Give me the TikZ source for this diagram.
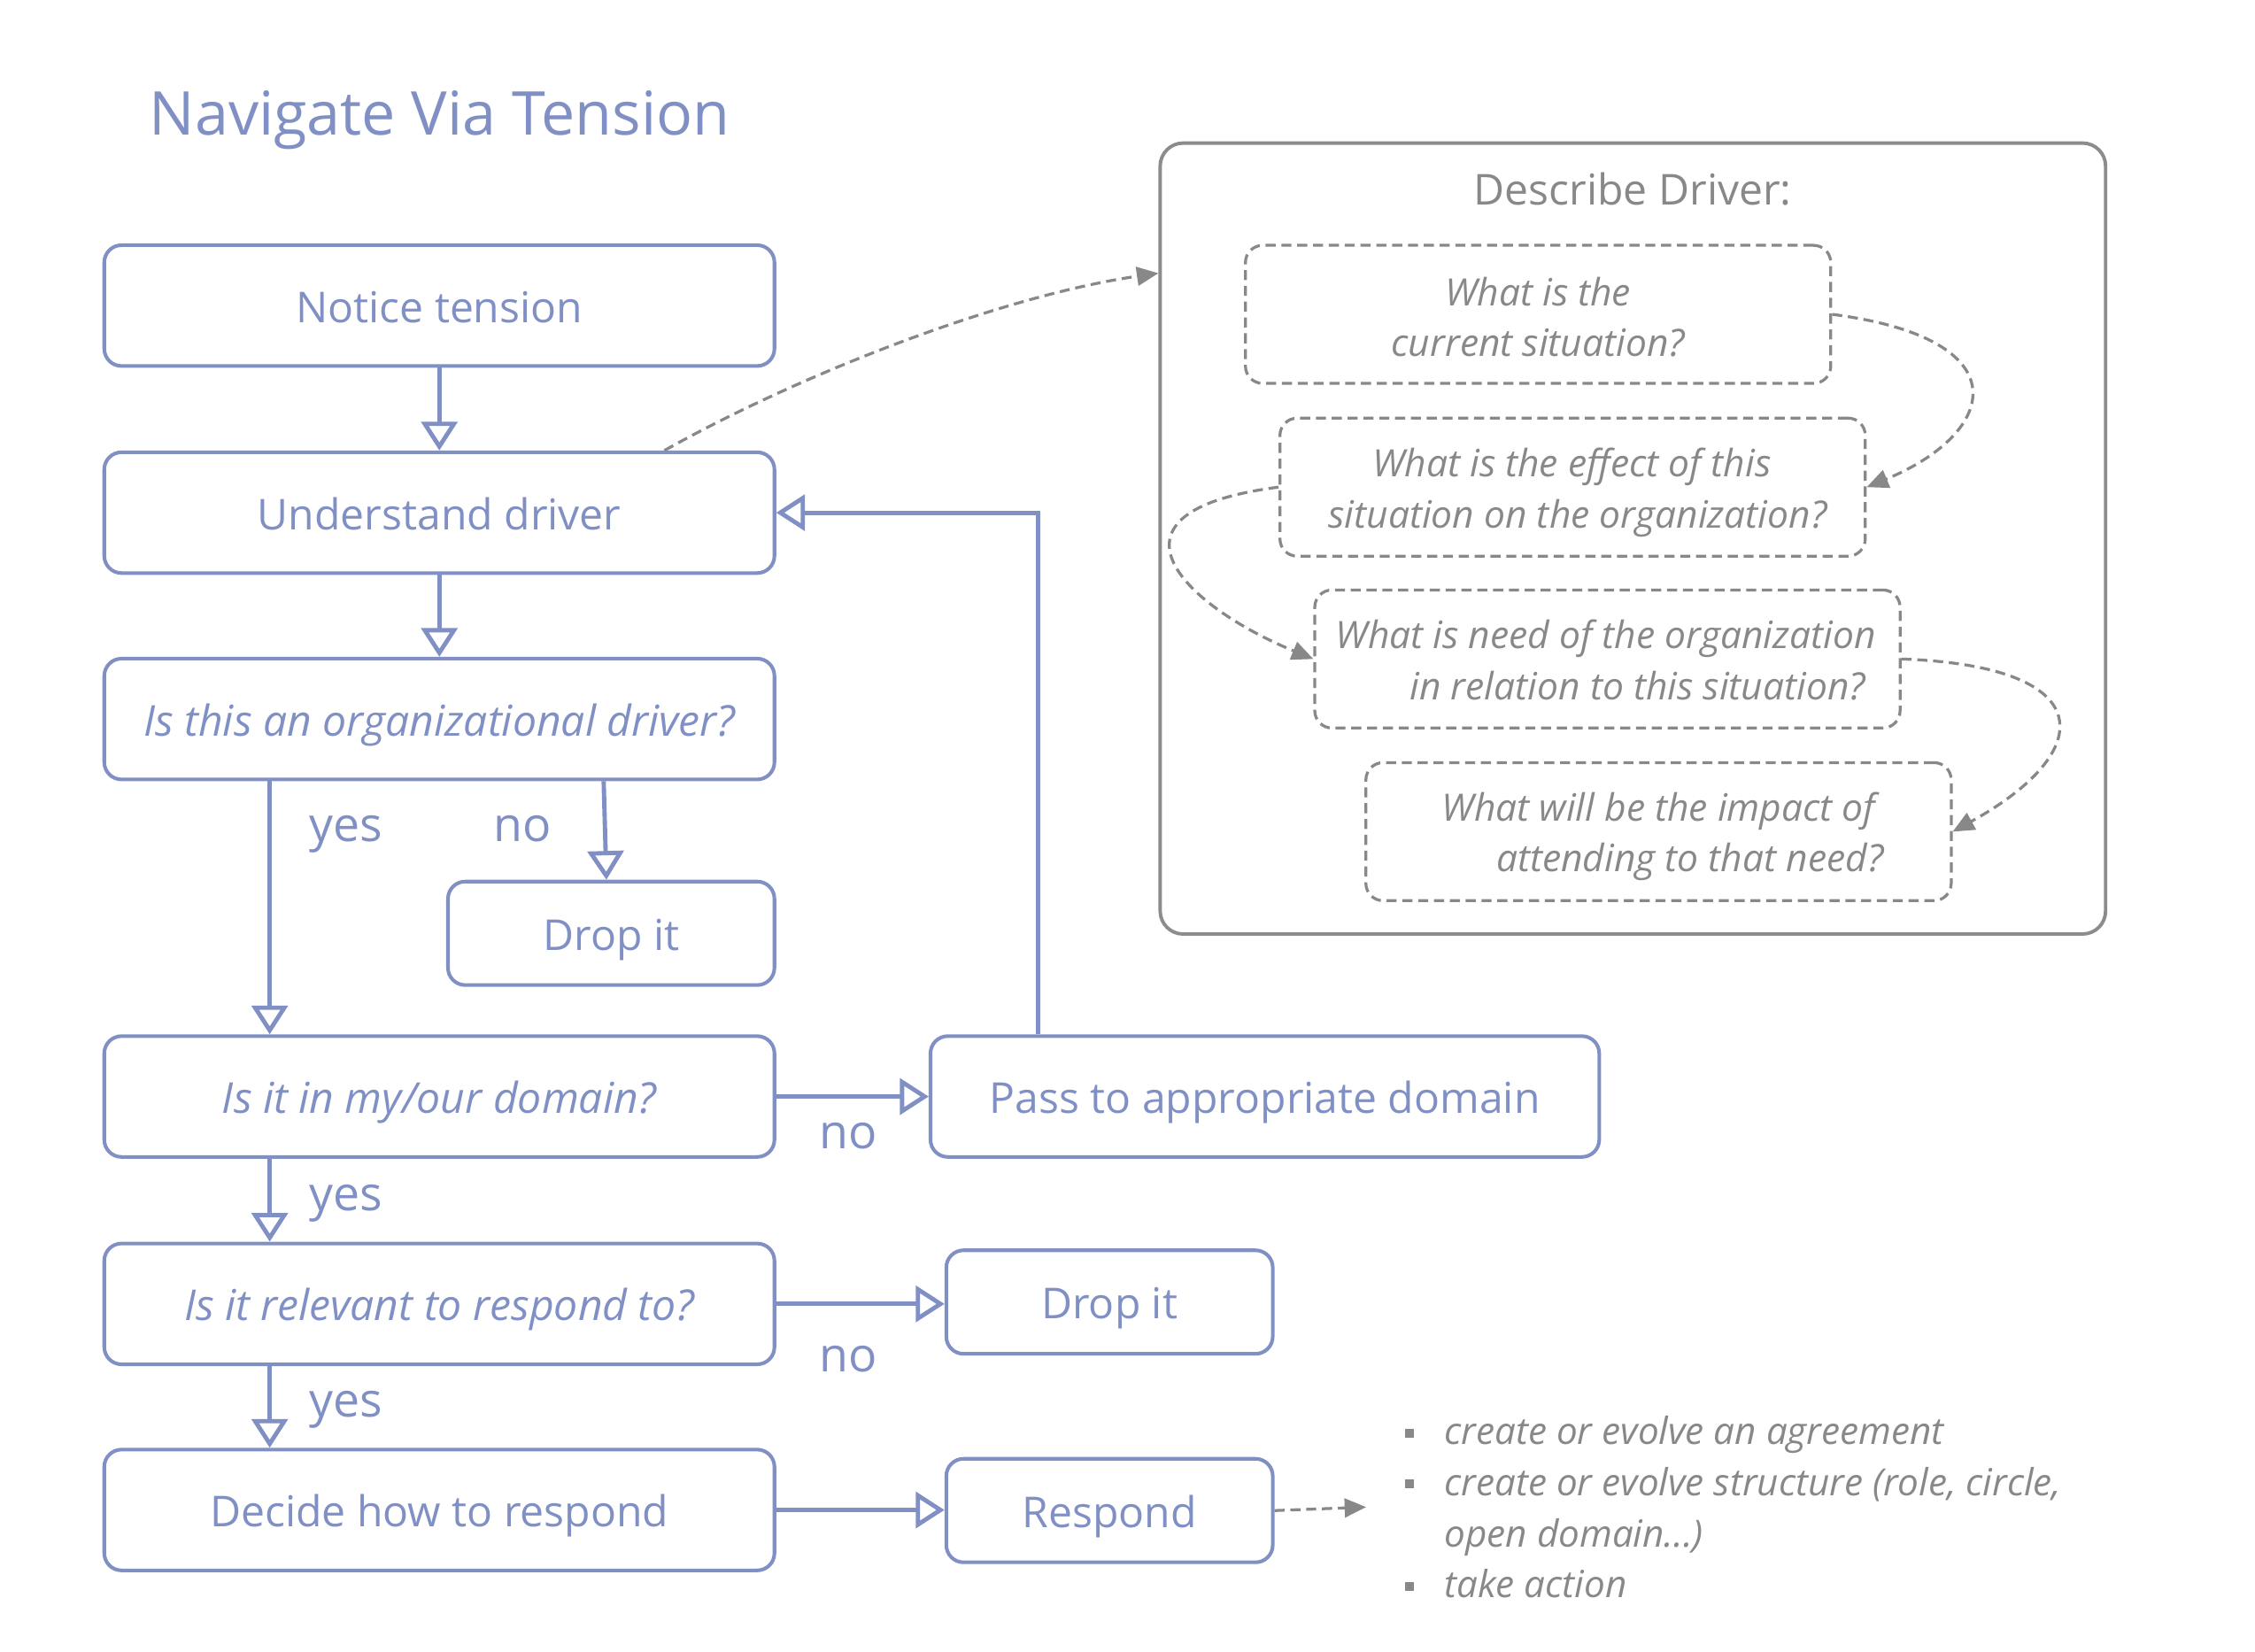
\documentclass[tikz,border=0pt]{standalone}
\usepackage{fontspec}
\setmainfont{Open Sans}
\usetikzlibrary{arrows.meta}
\definecolor{nblue}{RGB}{128,144,196}
\definecolor{ngray}{RGB}{136,136,136}
\definecolor{nframe}{RGB}{140,140,140}
\tikzset{
  mainbox/.style={draw=nblue, line width=1.25pt, rounded corners=6pt, text=nblue, inner sep=0pt,
    font=\fontsize{14.8pt}{17pt}\selectfont, text height=11.8pt, text depth=0pt, minimum height=42pt},
  widebox/.style={mainbox, minimum width=233pt},
  smallbox/.style={mainbox, minimum width=113.5pt, minimum height=36pt},
  conn/.style={draw=nblue, line width=1.5pt, arrows={-Triangle[open,length=10pt,width=12.5pt]}},
  lbl/.style={text=nblue, inner sep=0pt, anchor=base west, font=\fontsize{16.5pt}{19pt}\selectfont},
  qbox/.style={draw=ngray, line width=1pt, dash pattern=on 3.5pt off 2pt, rounded corners=6pt,
    minimum width=203.5pt, minimum height=48pt, inner sep=0pt},
  qtxt/.style={text=ngray, inner sep=0pt, anchor=base, font=\fontsize{13.1pt}{16pt}\selectfont\itshape},
  gcurve/.style={draw=ngray, line width=1pt, dash pattern=on 3.5pt off 2pt, arrows={-Triangle[length=7.5pt,width=6.5pt]}},
  ltxt/.style={text=ngray, inner sep=0pt, anchor=base west, font=\fontsize{13pt}{16pt}\selectfont\itshape},
  bul/.style={fill=ngray, inner sep=0pt, minimum size=3pt},
}
\begin{document}
\begin{tikzpicture}[x=0.5pt,y=-0.5pt]
\useasboundingbox (0,0) rectangle (1568,1148.7);

% title
\node[text=nblue, inner sep=0pt, anchor=base west, font=\fontsize{21pt}{25pt}\selectfont] (title) at (103.5,94) {Navigate Via Tension};

% main column
\node[widebox] (notice) at (305.5,212.5) {Notice tension};
\node[widebox] (understand) at (305.5,356.5) {Understand driver};
\node[widebox, font=\fontsize{14.8pt}{17pt}\selectfont\itshape] (isorg) at (305.5,500) {Is this an organizational driver?};
\node[widebox, font=\fontsize{14.8pt}{17pt}\selectfont\itshape] (domain) at (305.5,762.5) {Is it in my/our domain?};
\node[widebox, font=\fontsize{14.8pt}{17pt}\selectfont\itshape] (relevant) at (305.5,906.7) {Is it relevant to respond to?};
\node[widebox] (decide) at (305.5,1050) {Decide how to respond};

\node[smallbox] (drop1) at (425,649) {Drop it};
\node[mainbox, minimum width=232.5pt] (pass) at (879.5,762.5) {Pass to appropriate domain};
\node[smallbox] (drop2) at (771.5,905.4) {Drop it};
\node[smallbox] (respond) at (771.5,1050.4) {Respond};

% connectors
\draw[conn] (notice) -- (understand);
\draw[conn] (understand) -- (isorg);
\draw[conn] ([xshift=58.15pt]isorg.south west) -- ([xshift=58.15pt]domain.north west);
\draw[conn] ([xshift=174.25pt]isorg.south west) -- ([xshift=55.7pt]drop1.north west);
\draw[conn] (domain) -- (pass);
\draw[conn] ([xshift=38.15pt]pass.north west) |- (understand.east);
\draw[conn] ([xshift=58.15pt]domain.south west) -- ([xshift=58.15pt]relevant.north west);
\draw[conn] (relevant.east) -- (relevant.east -| drop2.west);
\draw[conn] ([xshift=58.15pt]relevant.south west) -- ([xshift=58.15pt]decide.north west);
\draw[conn] (decide.east) -- (decide.east -| respond.west);

% yes / no labels
\node[lbl] (yes1) at (215,585.4) {yes};
\node[lbl] (no1) at (343,585.4) {no};
\node[lbl] (no2) at (569.5,799) {no};
\node[lbl] (yes2) at (215,842) {yes};
\node[lbl] (no3) at (569.5,953.8) {no};
\node[lbl] (yes3) at (215,985.4) {yes};

% describe driver panel
\node[draw=nframe, line width=1.2pt, rounded corners=8pt, minimum width=328.7pt, minimum height=275pt, inner sep=0pt] (outer) at (1135.4,374.5) {};
\node[text=ngray, inner sep=0pt, anchor=base, font=\fontsize{14.8pt}{17pt}\selectfont] (ddtitle) at (1135.4,142.6) {Describe Driver:};

\node[qbox] (q1) at (1069.5,218.6) {};
\node[qbox] (q2) at (1093.5,338.75) {};
\node[qbox] (q3) at (1117.7,458.25) {};
\node[qbox] (q4) at (1153.25,578.3) {};

\node[qtxt] (q1a) at (1069.5,212.5) {What is the};
\node[qtxt] (q1b) at (1069.5,248) {current situation?};
\node[qtxt] (q2a) at (1093,331.8) {What is the effect of this};
\node[qtxt] (q2b) at (1097,367.3) {situation on the organization?};
\node[qtxt] (q3a) at (1116.6,451) {What is need of the organization};
\node[qtxt] (q3b) at (1138.8,486.7) {in relation to this situation?};
\node[qtxt] (q4a) at (1153.4,570.7) {What will be the impact of};
\node[qtxt] (q4b) at (1175,606) {attending to that need?};

% dashed curved arrows
\draw[gcurve] ([xshift=78.25pt]understand.north) .. controls +(100,-56) and +(-105,15) .. ([yshift=92.25pt]outer.west);
\draw[gcurve] (q1.east) .. controls +(132,17) and +(92,-38) .. (q2.east);
\draw[gcurve] (q2.west) .. controls +(-132,17) and +(-92,-38) .. (q3.west);
\draw[gcurve] (q3.east) .. controls +(140,5) and +(100,-55) .. (q4.east);

% respond list
\coordinate (lst) at (950,1048);
\draw[gcurve] (respond.east) -- (lst);
\node[bul] (b1) at (980,996.5) {};
\node[bul] (b2) at (980,1032) {};
\node[bul] (b3) at (980,1103) {};
\node[ltxt] (l1) at (1004,1004.5) {create or evolve an agreement};
\node[ltxt] (l2) at (1004,1040) {create or evolve structure (role, circle,};
\node[ltxt] (l3) at (1004,1075.7) {open domain...)};
\node[ltxt] (l4) at (1004,1111) {take action};
\end{tikzpicture}
\end{document}
